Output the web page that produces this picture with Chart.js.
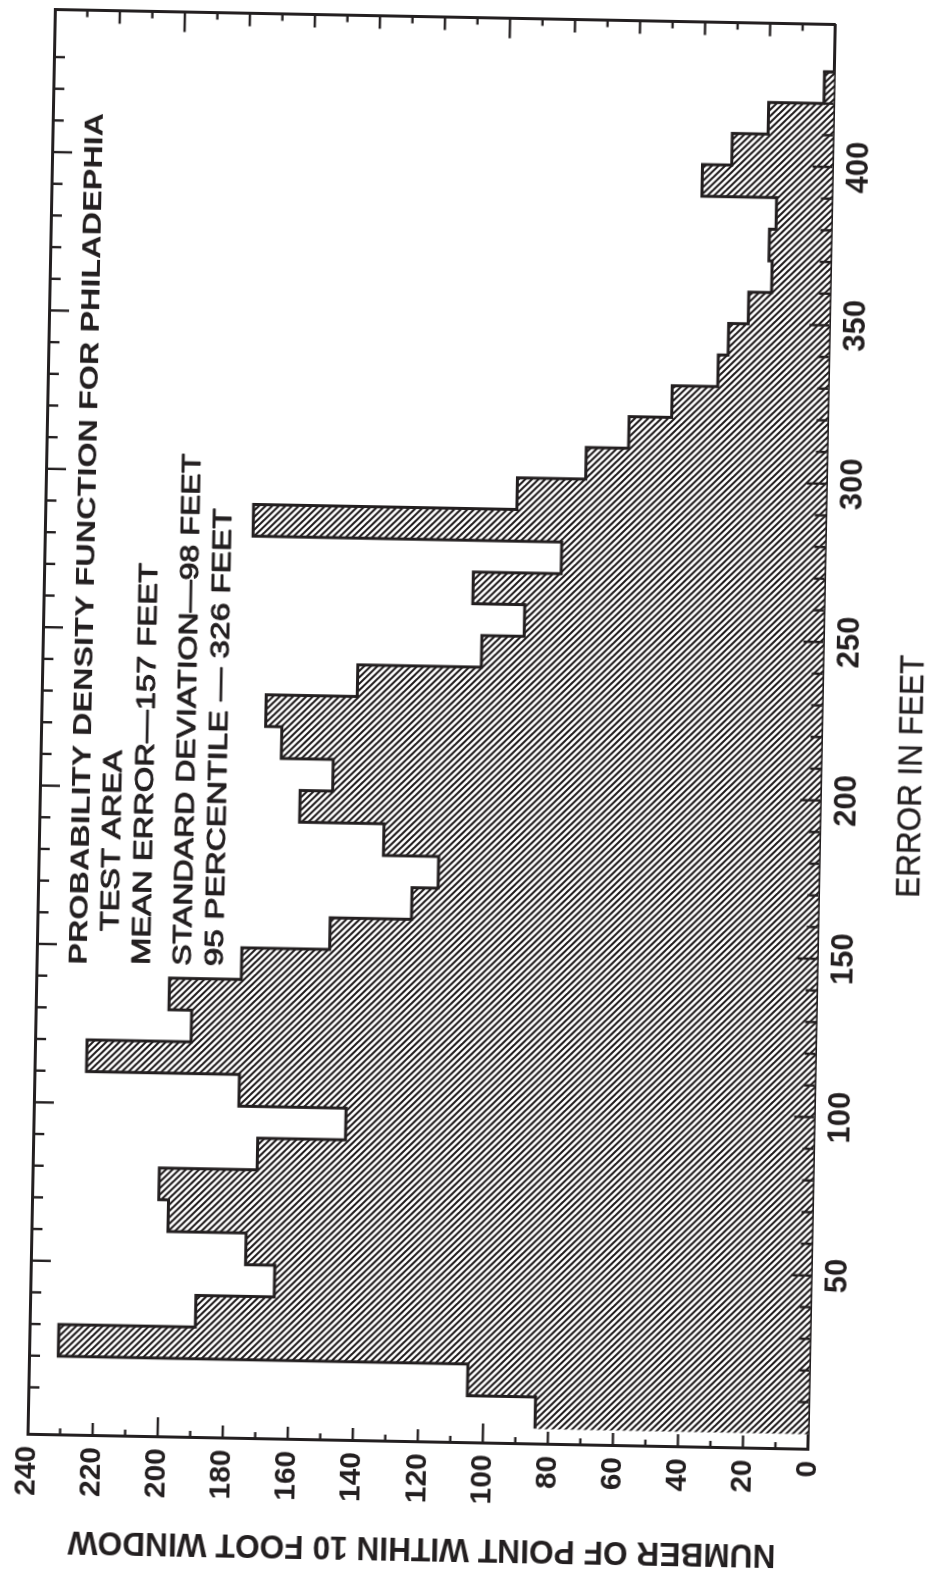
<!DOCTYPE html>
<html>
<head>
<meta charset="utf-8">
<script src="https://cdn.jsdelivr.net/npm/chart.js@4.4.1/dist/chart.umd.min.js"></script>
<style>
  html, body { margin: 0; padding: 0; background: #fff; width: 926px; height: 1576px; overflow: hidden; }
  /* the chart is laid out landscape and turned onto the portrait page */
  #sheet { position: absolute; left: -325px; top: 325px; width: 1576px; height: 926px;
           transform: rotate(-88.9deg); transform-origin: 788px 463px; background: #fff; }
  canvas { display: block; }
</style>
</head>
<body>
<div id="sheet"><canvas id="pdf" width="1576" height="926"></canvas></div>
<script>
// 10-foot windows: lower edge of each window (feet)
const windowStartFeet = [0, 10, 20, 30, 40, 50, 60, 70, 80, 90,
  100, 110, 120, 130, 140, 150, 160, 170, 180, 190,
  200, 210, 220, 230, 240, 250, 260, 270, 280, 290,
  300, 310, 320, 330, 340, 350, 360, 370, 380, 390,
  400, 410, 420];
// number of points falling in each window
const pointsInWindow = [84, 105, 231, 189, 165, 174, 198, 201, 171, 144,
  177, 224, 192, 199, 177, 150, 125, 117, 134, 160,
  150, 166, 171, 143, 105, 92, 108, 81, 176, 95,
  74, 61, 48, 34, 31, 25, 18, 19, 17, 40,
  31, 20, 3];
const windowWidthFeet = 10;

const errorAxisLabels = [50, 100, 150, 200, 250, 300, 350, 400];
const countAxisLabels = [0, 20, 40, 60, 80, 100, 120, 140, 160, 180, 200, 220, 240];

const noteLines = [
  'PROBABILITY DENSITY FUNCTION FOR PHILADEPHIA',
  'TEST AREA',
  'MEAN ERROR\u2014157 FEET',
  'STANDARD DEVIATION\u201498 FEET',
  '95 PERCENTILE \u2014 326 FEET'
];
const errorTitle = 'ERROR IN FEET';
const countTitle = 'NUMBER OF POINT WITHIN 10 FOOT WINDOW';

const ink = '#231f20';
const face = "'Liberation Sans', 'DejaVu Sans', sans-serif";
const capRatio = 0.716;

const cvs = document.getElementById('pdf');
const ctx0 = cvs.getContext('2d');

// diagonal ruling used to shade the histogram
function ruling() {
  const s = 13;
  const t = document.createElement('canvas');
  t.width = s; t.height = s;
  const g = t.getContext('2d');
  g.fillStyle = '#ffffff';
  g.fillRect(0, 0, s, s);
  g.strokeStyle = '#1f1b1c';
  g.lineWidth = 2.0;
  for (const o of [-13, -6.5, 0, 6.5, 13]) {
    g.beginPath();
    g.moveTo(o - 1, -1);
    g.lineTo(o + s + 1, s + 1);
    g.stroke();
  }
  return ctx0.createPattern(t, 'repeat');
}

// fit a line of capitals between two x positions; pen adds a little weight
function fittedText(ctx, text, x0, x1, yMid, size, weight, pen) {
  ctx.save();
  ctx.font = weight + ' ' + size + 'px ' + face;
  const w = ctx.measureText(text).width;
  ctx.translate(x0, yMid + size * capRatio / 2);
  ctx.scale((x1 - x0) / w, 1);
  ctx.textAlign = 'left';
  ctx.textBaseline = 'alphabetic';
  ctx.fillStyle = ink;
  ctx.fillText(text, 0, 0);
  if (pen) {
    ctx.strokeStyle = ink;
    ctx.lineWidth = pen;
    ctx.lineJoin = 'round';
    ctx.strokeText(text, 0, 0);
  }
  ctx.restore();
}

// tick marks pointing into the frame on all four sides
const innerTicks = {
  id: 'innerTicks',
  afterDatasetsDraw(chart) {
    const { ctx, chartArea: a, scales: { x, y } } = chart;
    ctx.save();
    ctx.strokeStyle = ink;
    ctx.lineWidth = 2.4;
    const seg = (x1, y1, x2, y2) => { ctx.beginPath(); ctx.moveTo(x1, y1); ctx.lineTo(x2, y2); ctx.stroke(); };
    x.ticks.forEach(t => {
      const v = t.value;
      if (v <= x.min || v >= x.max) return;
      const p = x.getPixelForValue(v);
      const len = v % 50 === 0 ? 20 : 11;
      seg(p, a.bottom, p, a.bottom - len);
      seg(p, a.top, p, a.top + len);
    });
    y.ticks.forEach(t => {
      const v = t.value;
      if (v <= y.min || v >= y.max) return;
      const p = y.getPixelForValue(v);
      const len = v % 100 === 0 ? 20 : (v % 20 === 0 ? 13 : 7);
      seg(a.left, p, a.left + len, p);
      seg(a.right, p, a.right - len, p);
    });
    ctx.restore();
  }
};

// axis titles and the summary note
const lettering = {
  id: 'lettering',
  afterDraw(chart) {
    const { ctx, chartArea: a, scales: { x } } = chart;
    // note block, upper left of the plot
    const L = a.left, T = a.top;
    fittedText(ctx, noteLines[0], L + 471, L + 1323, T + 41.5, 25, 'bold', 0);
    fittedText(ctx, noteLines[1], L + 505, L + 686, T + 72, 25, 'normal', 0.9);
    fittedText(ctx, noteLines[2], L + 472, L + 874, T + 104, 25, 'normal', 0.9);
    fittedText(ctx, noteLines[3], L + 472, L + 984, T + 145, 25, 'normal', 0.9);
    fittedText(ctx, noteLines[4], L + 472, L + 930, T + 177, 25, 'normal', 0.9);

    // error axis title
    const cx = x.getPixelForValue(208);
    fittedText(ctx, errorTitle, cx - 121, cx + 122, a.bottom + 88, 34, 'normal', 0.4);

    // count axis title, turned to read upward
    ctx.save();
    const cy = (a.top + a.bottom) / 2 + 6;
    ctx.translate(25, cy);
    ctx.rotate(-Math.PI / 2);
    fittedText(ctx, countTitle, -354, 354, 0, 34, 'bold', 0);
    ctx.restore();
  }
};

const countsAsBars = windowStartFeet.map((s, i) => ({ x: s + windowWidthFeet / 2, y: pointsInWindow[i] }));
const outlineSteps = windowStartFeet.map((s, i) => ({ x: s, y: pointsInWindow[i] }));
outlineSteps.push({ x: windowStartFeet[windowStartFeet.length - 1] + windowWidthFeet, y: 0 });

new Chart(cvs, {
  data: {
    datasets: [
      {
        type: 'line',
        data: outlineSteps,
        stepped: 'before',
        borderColor: ink,
        borderWidth: 3,
        pointRadius: 0,
        fill: false,
        order: 0
      },
      {
        type: 'bar',
        data: countsAsBars,
        backgroundColor: ruling(),
        borderWidth: 0,
        barPercentage: 1,
        categoryPercentage: 1,
        grouped: false,
        order: 1
      }
    ]
  },
  options: {
    responsive: false,
    animation: false,
    devicePixelRatio: 1,
    layout: { padding: { top: 40, right: 17.5, bottom: 0, left: 0 } },
    plugins: { legend: { display: false }, tooltip: { enabled: false } },
    scales: {
      x: {
        type: 'linear', position: 'bottom', min: 0, max: 440,
        grid: { display: false, drawTicks: false },
        border: { display: true, color: ink, width: 3 },
        ticks: {
          stepSize: 10, autoSkip: false, maxRotation: 0, padding: 8,
          color: ink, font: { family: face, size: 31, weight: 'bold' },
          callback: v => errorAxisLabels.includes(v) ? String(v) : ''
        },
        afterFit: s => { s.height = 105.5; }
      },
      x2: {
        type: 'linear', position: 'top', min: 0, max: 440,
        grid: { display: false, drawTicks: false },
        border: { display: true, color: ink, width: 3 },
        ticks: { display: false },
        afterFit: s => { s.height = 0; }
      },
      y: {
        type: 'linear', position: 'left', min: 0, max: 240,
        grid: { display: false, drawTicks: false },
        border: { display: true, color: ink, width: 3 },
        ticks: {
          stepSize: 10, autoSkip: false, padding: 11,
          color: ink, font: { family: face, size: 30, weight: 'bold' },
          callback: v => countAxisLabels.includes(v) ? String(v) : ''
        },
        afterFit: s => { s.width = 133; }
      },
      y2: {
        type: 'linear', position: 'right', min: 0, max: 240,
        grid: { display: false, drawTicks: false },
        border: { display: true, color: ink, width: 3 },
        ticks: { display: false },
        afterFit: s => { s.width = 0; }
      }
    }
  },
  plugins: [innerTicks, lettering]
});
</script>
</body>
</html>
